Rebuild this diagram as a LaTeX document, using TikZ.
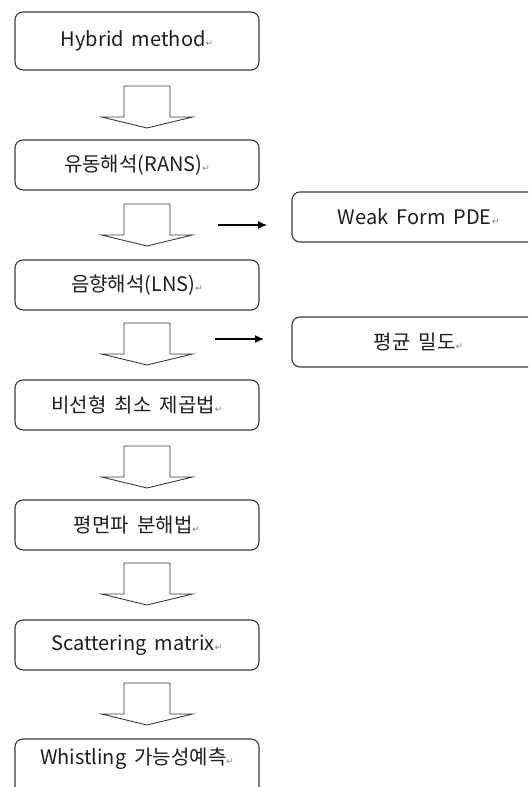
\documentclass[tikz,border=0pt]{standalone}
\usepackage{fontspec}
\usetikzlibrary{arrows.meta}
\setmainfont[WordSpace=1.8]{Noto Sans CJK KR}
\newfontfamily\retfont{DejaVu Sans}
\newcommand{\retmark}{{\retfont\fontsize{9}{9}\selectfont\textcolor{black!50}{↵}}}
\definecolor{lineC}{HTML}{3A3A3A}
\definecolor{textC}{HTML}{1E1E1E}
\tikzset{
  flowbox/.style={draw=lineC, line width=1.1pt, rounded corners=8pt, minimum width=244pt, minimum height=50pt, inner sep=0pt, text=textC, font=\fontsize{20}{23}\selectfont},
  sidebox/.style={flowbox, minimum width=253pt},
  blockarrow/.style={draw=lineC, line width=0.9pt, fill=white},
  smallarrow/.style={draw=black, line width=1.2pt, -{Latex[length=9pt,width=8pt]}},
  plaintext/.style={inner sep=0pt, text=textC, font=\fontsize{20}{23}\selectfont},
  downarrow/.pic={\draw[blockarrow] (-23,0) -- (23,0) -- (23,31) -- (45.5,31) -- (0,42) -- (-45.5,31) -- (-23,31) -- cycle;}
}
\begin{document}
\begin{tikzpicture}[x=1pt,y=-1pt]
\clip (0,0) rectangle (528,787);
\fill[white] (0,0) rectangle (528,787);
\node[flowbox, minimum height=58pt] (b1) at (137,41) {Hybrid method\retmark};
\node[flowbox] (b2) at (137,165) {유동해석(RANS)\retmark};
\node[flowbox] (b3) at (137,285) {음향해석(LNS)\retmark};
\node[flowbox] (b4) at (137,405) {비선형 최소 제곱법\retmark};
\node[flowbox] (b5) at (137,525) {평면파 분해법\retmark};
\node[flowbox] (b6) at (137,645) {Scattering matrix\retmark};
\node[flowbox, minimum height=64pt] (b7) at (137,771) {};
\node[plaintext] (t7) at (137,759) {Whistling 가능성예측\retmark};
\node[sidebox] (s1) at (418.5,217) {Weak Form PDE\retmark};
\node[sidebox] (s2) at (418.5,342) {평균 밀도\retmark};
\pic at (147,86) {downarrow};
\pic at (147,204) {downarrow};
\pic at (147,323) {downarrow};
\pic at (147,446) {downarrow};
\pic at (147,563) {downarrow};
\pic at (147,683) {downarrow};
\coordinate (a1s) at (218,225);
\coordinate (a1e) at (267,225);
\coordinate (a2s) at (215,339);
\coordinate (a2e) at (264,339);
\draw[smallarrow] (a1s) -- (a1e);
\draw[smallarrow] (a2s) -- (a2e);
\end{tikzpicture}
\end{document}
